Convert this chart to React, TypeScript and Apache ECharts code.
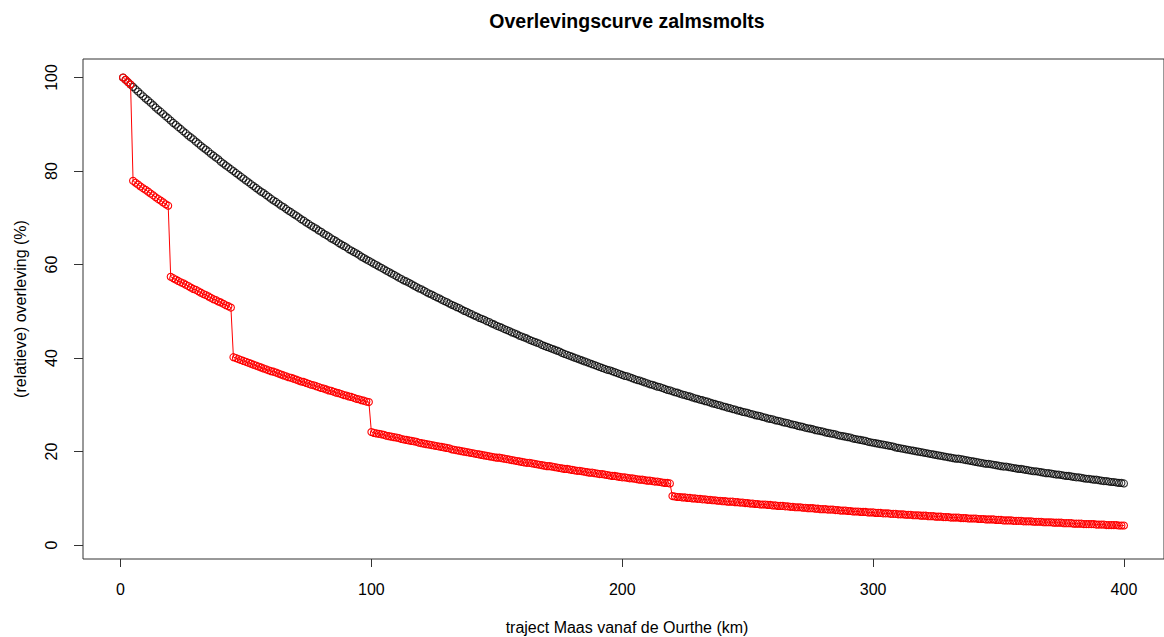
import React, { useEffect, useRef } from "react";
import * as echarts from "echarts";

const chartTitle = "Overlevingscurve zalmsmolts";
const xAxisTitle = "traject Maas vanaf de Ourthe (km)";
const yAxisTitle = "(relatieve) overleving (%)";

const xTicks = [0, 100, 200, 300, 400];
const yTicks = [0, 20, 40, 60, 80, 100];

// km positions along the Meuse (one point per km)
const km = [
  1, 2, 3, 4, 5, 6, 7, 8, 9, 10, 11, 12, 13, 14, 15, 16, 17, 18, 19, 20,
  21, 22, 23, 24, 25, 26, 27, 28, 29, 30, 31, 32, 33, 34, 35, 36, 37, 38, 39, 40,
  41, 42, 43, 44, 45, 46, 47, 48, 49, 50, 51, 52, 53, 54, 55, 56, 57, 58, 59, 60,
  61, 62, 63, 64, 65, 66, 67, 68, 69, 70, 71, 72, 73, 74, 75, 76, 77, 78, 79, 80,
  81, 82, 83, 84, 85, 86, 87, 88, 89, 90, 91, 92, 93, 94, 95, 96, 97, 98, 99, 100,
  101, 102, 103, 104, 105, 106, 107, 108, 109, 110, 111, 112, 113, 114, 115, 116, 117, 118, 119, 120,
  121, 122, 123, 124, 125, 126, 127, 128, 129, 130, 131, 132, 133, 134, 135, 136, 137, 138, 139, 140,
  141, 142, 143, 144, 145, 146, 147, 148, 149, 150, 151, 152, 153, 154, 155, 156, 157, 158, 159, 160,
  161, 162, 163, 164, 165, 166, 167, 168, 169, 170, 171, 172, 173, 174, 175, 176, 177, 178, 179, 180,
  181, 182, 183, 184, 185, 186, 187, 188, 189, 190, 191, 192, 193, 194, 195, 196, 197, 198, 199, 200,
  201, 202, 203, 204, 205, 206, 207, 208, 209, 210, 211, 212, 213, 214, 215, 216, 217, 218, 219, 220,
  221, 222, 223, 224, 225, 226, 227, 228, 229, 230, 231, 232, 233, 234, 235, 236, 237, 238, 239, 240,
  241, 242, 243, 244, 245, 246, 247, 248, 249, 250, 251, 252, 253, 254, 255, 256, 257, 258, 259, 260,
  261, 262, 263, 264, 265, 266, 267, 268, 269, 270, 271, 272, 273, 274, 275, 276, 277, 278, 279, 280,
  281, 282, 283, 284, 285, 286, 287, 288, 289, 290, 291, 292, 293, 294, 295, 296, 297, 298, 299, 300,
  301, 302, 303, 304, 305, 306, 307, 308, 309, 310, 311, 312, 313, 314, 315, 316, 317, 318, 319, 320,
  321, 322, 323, 324, 325, 326, 327, 328, 329, 330, 331, 332, 333, 334, 335, 336, 337, 338, 339, 340,
  341, 342, 343, 344, 345, 346, 347, 348, 349, 350, 351, 352, 353, 354, 355, 356, 357, 358, 359, 360,
  361, 362, 363, 364, 365, 366, 367, 368, 369, 370, 371, 372, 373, 374, 375, 376, 377, 378, 379, 380,
  381, 382, 383, 384, 385, 386, 387, 388, 389, 390, 391, 392, 393, 394, 395, 396, 397, 398, 399, 400,
];

// survival without obstacles (black circles)
const survivalFree = [
  100.0, 99.5, 99.0, 98.5, 98.0, 97.5, 97.0, 96.5, 96.0, 95.5,
  95.1, 94.6, 94.1, 93.6, 93.1, 92.7, 92.2, 91.7, 91.3, 90.8,
  90.3, 89.9, 89.4, 89.0, 88.5, 88.1, 87.6, 87.2, 86.8, 86.3,
  85.9, 85.4, 85.0, 84.6, 84.2, 83.7, 83.3, 82.9, 82.5, 82.0,
  81.6, 81.2, 80.8, 80.4, 80.0, 79.6, 79.2, 78.8, 78.4, 78.0,
  77.6, 77.2, 76.8, 76.4, 76.0, 75.6, 75.3, 74.9, 74.5, 74.1,
  73.7, 73.4, 73.0, 72.6, 72.3, 71.9, 71.5, 71.2, 70.8, 70.5,
  70.1, 69.7, 69.4, 69.0, 68.7, 68.3, 68.0, 67.7, 67.3, 67.0,
  66.6, 66.3, 66.0, 65.6, 65.3, 65.0, 64.6, 64.3, 64.0, 63.7,
  63.3, 63.0, 62.7, 62.4, 62.1, 61.7, 61.4, 61.1, 60.8, 60.5,
  60.2, 59.9, 59.6, 59.3, 59.0, 58.7, 58.4, 58.1, 57.8, 57.5,
  57.2, 56.9, 56.6, 56.4, 56.1, 55.8, 55.5, 55.2, 54.9, 54.7,
  54.4, 54.1, 53.8, 53.6, 53.3, 53.0, 52.8, 52.5, 52.2, 52.0,
  51.7, 51.4, 51.2, 50.9, 50.7, 50.4, 50.1, 49.9, 49.6, 49.4,
  49.1, 48.9, 48.6, 48.4, 48.2, 47.9, 47.7, 47.4, 47.2, 46.9,
  46.7, 46.5, 46.2, 46.0, 45.8, 45.5, 45.3, 45.1, 44.8, 44.6,
  44.4, 44.2, 43.9, 43.7, 43.5, 43.3, 43.1, 42.8, 42.6, 42.4,
  42.2, 42.0, 41.8, 41.6, 41.4, 41.1, 40.9, 40.7, 40.5, 40.3,
  40.1, 39.9, 39.7, 39.5, 39.3, 39.1, 38.9, 38.7, 38.5, 38.3,
  38.1, 37.9, 37.7, 37.5, 37.4, 37.2, 37.0, 36.8, 36.6, 36.4,
  36.2, 36.1, 35.9, 35.7, 35.5, 35.3, 35.2, 35.0, 34.8, 34.6,
  34.4, 34.3, 34.1, 33.9, 33.8, 33.6, 33.4, 33.2, 33.1, 32.9,
  32.7, 32.6, 32.4, 32.2, 32.1, 31.9, 31.8, 31.6, 31.4, 31.3,
  31.1, 31.0, 30.8, 30.7, 30.5, 30.3, 30.2, 30.0, 29.9, 29.7,
  29.6, 29.4, 29.3, 29.1, 29.0, 28.8, 28.7, 28.5, 28.4, 28.3,
  28.1, 28.0, 27.8, 27.7, 27.6, 27.4, 27.3, 27.1, 27.0, 26.9,
  26.7, 26.6, 26.5, 26.3, 26.2, 26.1, 25.9, 25.8, 25.7, 25.5,
  25.4, 25.3, 25.1, 25.0, 24.9, 24.8, 24.6, 24.5, 24.4, 24.3,
  24.1, 24.0, 23.9, 23.8, 23.7, 23.5, 23.4, 23.3, 23.2, 23.1,
  23.0, 22.8, 22.7, 22.6, 22.5, 22.4, 22.3, 22.1, 22.0, 21.9,
  21.8, 21.7, 21.6, 21.5, 21.4, 21.3, 21.2, 21.1, 20.9, 20.8,
  20.7, 20.6, 20.5, 20.4, 20.3, 20.2, 20.1, 20.0, 19.9, 19.8,
  19.7, 19.6, 19.5, 19.4, 19.3, 19.2, 19.1, 19.0, 18.9, 18.8,
  18.7, 18.6, 18.5, 18.5, 18.4, 18.3, 18.2, 18.1, 18.0, 17.9,
  17.8, 17.7, 17.6, 17.5, 17.4, 17.4, 17.3, 17.2, 17.1, 17.0,
  16.9, 16.8, 16.8, 16.7, 16.6, 16.5, 16.4, 16.3, 16.3, 16.2,
  16.1, 16.0, 15.9, 15.8, 15.8, 15.7, 15.6, 15.5, 15.4, 15.4,
  15.3, 15.2, 15.1, 15.1, 15.0, 14.9, 14.8, 14.8, 14.7, 14.6,
  14.5, 14.5, 14.4, 14.3, 14.2, 14.2, 14.1, 14.0, 14.0, 13.9,
  13.8, 13.7, 13.7, 13.6, 13.5, 13.5, 13.4, 13.3, 13.3, 13.2,
];

// survival with weirs / hydropower stations (red circles + line)
const survivalWeirs = [
  100.0, 99.5, 99.0, 98.5, 77.9, 77.5, 77.1, 76.7, 76.3, 76.0,
  75.6, 75.2, 74.8, 74.4, 74.0, 73.7, 73.3, 72.9, 72.6, 57.4,
  57.1, 56.8, 56.5, 56.2, 56.0, 55.7, 55.4, 55.1, 54.8, 54.6,
  54.3, 54.0, 53.7, 53.5, 53.2, 52.9, 52.6, 52.4, 52.1, 51.9,
  51.6, 51.3, 51.1, 50.8, 40.2, 40.0, 39.8, 39.6, 39.4, 39.2,
  39.0, 38.8, 38.6, 38.4, 38.2, 38.0, 37.8, 37.6, 37.4, 37.2,
  37.1, 36.9, 36.7, 36.5, 36.3, 36.1, 35.9, 35.8, 35.6, 35.4,
  35.2, 35.0, 34.9, 34.7, 34.5, 34.3, 34.2, 34.0, 33.8, 33.6,
  33.5, 33.3, 33.1, 33.0, 32.8, 32.6, 32.5, 32.3, 32.1, 32.0,
  31.8, 31.7, 31.5, 31.3, 31.2, 31.0, 30.9, 30.7, 30.6, 24.2,
  24.0, 23.9, 23.8, 23.7, 23.6, 23.4, 23.3, 23.2, 23.1, 23.0,
  22.9, 22.7, 22.6, 22.5, 22.4, 22.3, 22.2, 22.1, 21.9, 21.8,
  21.7, 21.6, 21.5, 21.4, 21.3, 21.2, 21.1, 21.0, 20.9, 20.8,
  20.7, 20.5, 20.4, 20.3, 20.2, 20.1, 20.0, 19.9, 19.8, 19.7,
  19.6, 19.5, 19.4, 19.3, 19.2, 19.1, 19.0, 18.9, 18.8, 18.7,
  18.7, 18.6, 18.5, 18.4, 18.3, 18.2, 18.1, 18.0, 17.9, 17.8,
  17.7, 17.6, 17.6, 17.5, 17.4, 17.3, 17.2, 17.1, 17.0, 16.9,
  16.9, 16.8, 16.7, 16.6, 16.5, 16.4, 16.3, 16.3, 16.2, 16.1,
  16.0, 15.9, 15.9, 15.8, 15.7, 15.6, 15.5, 15.5, 15.4, 15.3,
  15.2, 15.2, 15.1, 15.0, 14.9, 14.8, 14.8, 14.7, 14.6, 14.5,
  14.5, 14.4, 14.3, 14.3, 14.2, 14.1, 14.0, 14.0, 13.9, 13.8,
  13.8, 13.7, 13.6, 13.6, 13.5, 13.4, 13.3, 13.3, 13.2, 10.5,
  10.4, 10.3, 10.3, 10.2, 10.2, 10.1, 10.1, 10.0, 10.0, 9.9,
  9.9, 9.8, 9.8, 9.7, 9.7, 9.6, 9.6, 9.5, 9.5, 9.4,
  9.4, 9.3, 9.3, 9.3, 9.2, 9.2, 9.1, 9.1, 9.0, 9.0,
  8.9, 8.9, 8.8, 8.8, 8.7, 8.7, 8.7, 8.6, 8.6, 8.5,
  8.5, 8.4, 8.4, 8.4, 8.3, 8.3, 8.2, 8.2, 8.1, 8.1,
  8.1, 8.0, 8.0, 7.9, 7.9, 7.9, 7.8, 7.8, 7.7, 7.7,
  7.7, 7.6, 7.6, 7.6, 7.5, 7.5, 7.4, 7.4, 7.4, 7.3,
  7.3, 7.2, 7.2, 7.2, 7.1, 7.1, 7.1, 7.0, 7.0, 7.0,
  6.9, 6.9, 6.9, 6.8, 6.8, 6.8, 6.7, 6.7, 6.7, 6.6,
  6.6, 6.6, 6.5, 6.5, 6.5, 6.4, 6.4, 6.4, 6.3, 6.3,
  6.3, 6.2, 6.2, 6.2, 6.1, 6.1, 6.1, 6.0, 6.0, 6.0,
  5.9, 5.9, 5.9, 5.9, 5.8, 5.8, 5.8, 5.7, 5.7, 5.7,
  5.7, 5.6, 5.6, 5.6, 5.5, 5.5, 5.5, 5.5, 5.4, 5.4,
  5.4, 5.3, 5.3, 5.3, 5.3, 5.2, 5.2, 5.2, 5.2, 5.1,
  5.1, 5.1, 5.1, 5.0, 5.0, 5.0, 5.0, 4.9, 4.9, 4.9,
  4.9, 4.8, 4.8, 4.8, 4.8, 4.7, 4.7, 4.7, 4.7, 4.6,
  4.6, 4.6, 4.6, 4.5, 4.5, 4.5, 4.5, 4.5, 4.4, 4.4,
  4.4, 4.4, 4.3, 4.3, 4.3, 4.3, 4.3, 4.2, 4.2, 4.2,
];

const FONT = "'Liberation Sans', Arial, Helvetica, sans-serif";

export default function App() {
  const ref = useRef<HTMLDivElement>(null);

  useEffect(() => {
    if (!ref.current) return;
    const chart = echarts.init(ref.current, undefined, { renderer: "svg" });

    const freeData = km.map((k, i) => [k, survivalFree[i]]);
    const weirData = km.map((k, i) => [k, survivalWeirs[i]]);

    const option = {
      animation: false,
      backgroundColor: "#ffffff",
      textStyle: { fontFamily: FONT },
      grid: {
        left: 83,
        top: 59,
        right: -9,
        bottom: 78,
        show: true,
        borderColor: "#333",
        borderWidth: 1,
        backgroundColor: "transparent",
      },
      xAxis: {
        type: "value",
        min: -14.96,
        max: 415.96,
        axisLine: { show: false, onZero: false },
        splitLine: { show: false },
        axisTick: {
          show: true,
          inside: false,
          length: 8,
          customValues: xTicks,
          lineStyle: { color: "#333", width: 1 },
        },
        axisLabel: {
          customValues: xTicks,
          fontSize: 16,
          color: "#000",
          margin: 22,
          fontFamily: FONT,
        },
      },
      yAxis: {
        type: "value",
        min: -2.96,
        max: 103.96,
        axisLine: { show: false, onZero: false },
        splitLine: { show: false },
        axisTick: {
          show: true,
          inside: false,
          length: 9,
          customValues: yTicks,
          lineStyle: { color: "#333", width: 1 },
        },
        axisLabel: {
          customValues: yTicks,
          fontSize: 16,
          color: "#000",
          rotate: 90,
          margin: 24,
          fontFamily: FONT,
        },
      },
      graphic: [
        {
          type: "text",
          x: 627,
          y: 21,
          style: {
            text: chartTitle,
            fill: "#000",
            font: `bold 19.5px ${FONT}`,
            textAlign: "center",
            textVerticalAlign: "middle",
          },
        },
        {
          type: "text",
          x: 627,
          y: 627,
          style: {
            text: xAxisTitle,
            fill: "#000",
            font: `16px ${FONT}`,
            textAlign: "center",
            textVerticalAlign: "middle",
          },
        },
        {
          type: "text",
          x: 20,
          y: 309,
          rotation: Math.PI / 2,
          style: {
            text: yAxisTitle,
            fill: "#000",
            font: `16px ${FONT}`,
            textAlign: "center",
            textVerticalAlign: "middle",
          },
        },
      ],
      series: [
        {
          type: "scatter",
          name: "zonder obstakels",
          data: freeData,
          symbol: "circle",
          symbolSize: 7,
          itemStyle: {
            color: "rgba(0,0,0,0)",
            borderColor: "#000",
            borderWidth: 1.1,
          },
          z: 2,
        },
        {
          type: "line",
          name: "met stuwen",
          data: weirData,
          symbol: "circle",
          symbolSize: 7,
          showSymbol: true,
          showAllSymbol: true,
          lineStyle: { color: "#ff0000", width: 1 },
          itemStyle: {
            color: "rgba(0,0,0,0)",
            borderColor: "#ff0000",
            borderWidth: 1.1,
          },
          z: 3,
        },
      ],
    };

    chart.setOption(option as any);
    return () => {
      chart.dispose();
    };
  }, []);

  return (
    <div
      ref={ref}
      style={{ position: "absolute", left: 0, top: 0, width: 1164, height: 637 }}
    />
  );
}
